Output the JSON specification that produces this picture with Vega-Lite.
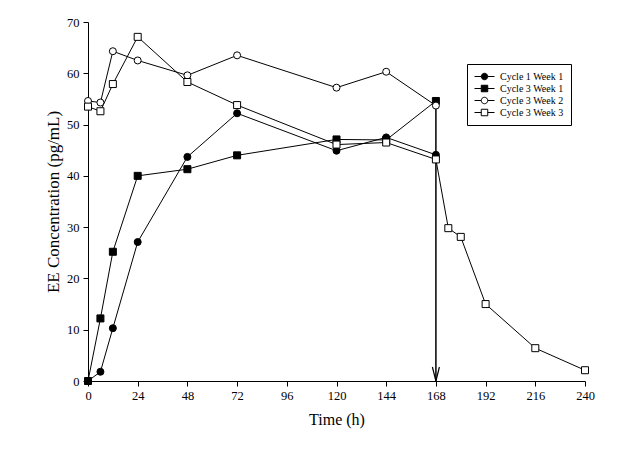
{
  "$schema": "https://vega.github.io/schema/vega-lite/v6.json",
  "width": 497,
  "height": 359,
  "autosize": {"type": "none"},
  "padding": {"left": 88, "top": 22, "right": 59, "bottom": 72},
  "background": "white",
  "config": {
    "view": {"stroke": null},
    "font": "Liberation Serif",
    "axis": {
      "domainColor": "black",
      "domainWidth": 1,
      "tickColor": "black",
      "tickWidth": 1,
      "tickSize": 5,
      "labelColor": "black",
      "labelFont": "Liberation Serif",
      "labelFontSize": 12.5,
      "titleColor": "black",
      "titleFont": "Liberation Serif",
      "titleFontSize": 16,
      "titleFontWeight": "normal",
      "grid": false
    }
  },
  "datasets": {
    "conc": [
      {"series": "Cycle 1 Week 1", "t": 0, "c": 0},
      {"series": "Cycle 1 Week 1", "t": 6, "c": 1.8},
      {"series": "Cycle 1 Week 1", "t": 12, "c": 10.3},
      {"series": "Cycle 1 Week 1", "t": 24, "c": 27.1},
      {"series": "Cycle 1 Week 1", "t": 48, "c": 43.7},
      {"series": "Cycle 1 Week 1", "t": 72, "c": 52.2},
      {"series": "Cycle 1 Week 1", "t": 120, "c": 44.9},
      {"series": "Cycle 1 Week 1", "t": 144, "c": 47.5},
      {"series": "Cycle 1 Week 1", "t": 168, "c": 44.1},
      {"series": "Cycle 3 Week 1", "t": 0, "c": 0},
      {"series": "Cycle 3 Week 1", "t": 6, "c": 12.2},
      {"series": "Cycle 3 Week 1", "t": 12, "c": 25.2},
      {"series": "Cycle 3 Week 1", "t": 24, "c": 40.0},
      {"series": "Cycle 3 Week 1", "t": 48, "c": 41.3},
      {"series": "Cycle 3 Week 1", "t": 72, "c": 44.0},
      {"series": "Cycle 3 Week 1", "t": 120, "c": 47.1},
      {"series": "Cycle 3 Week 1", "t": 144, "c": 47.0},
      {"series": "Cycle 3 Week 1", "t": 168, "c": 54.6},
      {"series": "Cycle 3 Week 2", "t": 0, "c": 54.6},
      {"series": "Cycle 3 Week 2", "t": 6, "c": 54.3},
      {"series": "Cycle 3 Week 2", "t": 12, "c": 64.3},
      {"series": "Cycle 3 Week 2", "t": 24, "c": 62.5},
      {"series": "Cycle 3 Week 2", "t": 48, "c": 59.6},
      {"series": "Cycle 3 Week 2", "t": 72, "c": 63.5},
      {"series": "Cycle 3 Week 2", "t": 120, "c": 57.2},
      {"series": "Cycle 3 Week 2", "t": 144, "c": 60.3},
      {"series": "Cycle 3 Week 2", "t": 168, "c": 53.7},
      {"series": "Cycle 3 Week 3", "t": 0, "c": 53.5},
      {"series": "Cycle 3 Week 3", "t": 6, "c": 52.6},
      {"series": "Cycle 3 Week 3", "t": 12, "c": 57.9},
      {"series": "Cycle 3 Week 3", "t": 24, "c": 67.1},
      {"series": "Cycle 3 Week 3", "t": 48, "c": 58.3},
      {"series": "Cycle 3 Week 3", "t": 72, "c": 53.8},
      {"series": "Cycle 3 Week 3", "t": 120, "c": 46.1},
      {"series": "Cycle 3 Week 3", "t": 144, "c": 46.5},
      {"series": "Cycle 3 Week 3", "t": 168, "c": 43.2},
      {"series": "Cycle 3 Week 3", "t": 174, "c": 29.8},
      {"series": "Cycle 3 Week 3", "t": 180, "c": 28.1},
      {"series": "Cycle 3 Week 3", "t": 192, "c": 15.0},
      {"series": "Cycle 3 Week 3", "t": 216, "c": 6.4},
      {"series": "Cycle 3 Week 3", "t": 240, "c": 2.1}
    ],
    "arrow": [{"t": 168, "top": 54.6, "bottom": 0}]
  },
  "resolve": {"scale": {"shape": "independent", "fill": "independent", "stroke": "independent"}, "legend": {"shape": "independent", "fill": "independent", "stroke": "independent"}},
  "layer": [
    {
      "data": {"name": "conc"},
      "mark": {"type": "line", "color": "black", "strokeWidth": 1},
      "encoding": {
        "x": {
          "field": "t", "type": "quantitative",
          "scale": {"domain": [0, 240], "nice": false},
          "axis": {
            "title": "Time (h)",
            "values": [0,6,12,18,24,30,36,42,48,54,60,66,72,78,84,90,96,102,108,114,120,126,132,138,144,150,156,162,168,174,180,186,192,198,204,210,216,222,228,234,240],
            "labelExpr": "datum.value % 24 === 0 ? datum.label : ''",
            "labelPadding": 3,
            "titlePadding": 10,
            "labelFlush": false
          }
        },
        "y": {
          "field": "c", "type": "quantitative",
          "scale": {"domain": [0, 70], "nice": false},
          "axis": {
            "title": "EE Concentration (pg/mL)",
            "titleFontSize": 17,
            "values": [0,5,10,15,20,25,30,35,40,45,50,55,60,65,70],
            "labelExpr": "datum.value % 10 === 0 ? datum.label : ''",
            "labelPadding": 4,
            "titlePadding": 4,
            "labelFlush": false
          }
        },
        "detail": {"field": "series"}
      }
    },
    {
      "data": {"name": "arrow"},
      "mark": {"type": "rule", "color": "black", "strokeWidth": 1.5},
      "encoding": {
        "x": {"field": "t", "type": "quantitative"},
        "y": {"field": "top", "type": "quantitative"},
        "y2": {"field": "bottom"}
      }
    },
    {
      "data": {"name": "arrow"},
      "mark": {"type": "point", "shape": "M-0.5,-1L0,1L0.5,-1", "filled": false, "stroke": "black", "strokeWidth": 1.2, "size": 196, "yOffset": -7, "opacity": 1},
      "encoding": {
        "x": {"field": "t", "type": "quantitative"},
        "y": {"field": "bottom", "type": "quantitative"}
      }
    },
    {
      "data": {"name": "conc"},
      "mark": {"type": "point", "filled": true, "stroke": "black", "strokeWidth": 1, "opacity": 1, "size": 49},
      "encoding": {
        "x": {"field": "t", "type": "quantitative"},
        "y": {"field": "c", "type": "quantitative"},
        "shape": {
          "field": "series", "type": "nominal",
          "scale": {"domain": ["Cycle 1 Week 1", "Cycle 3 Week 1", "Cycle 3 Week 2", "Cycle 3 Week 3"], "range": ["circle", "square", "circle", "square"]},
          "legend": null
        },
        "fill": {
          "field": "series", "type": "nominal",
          "scale": {"domain": ["Cycle 1 Week 1", "Cycle 3 Week 1", "Cycle 3 Week 2", "Cycle 3 Week 3"], "range": ["black", "black", "white", "white"]},
          "legend": null
        }
      }
    },
    {
      "data": {"name": "conc"},
      "transform": [{"filter": "datum.t < 0"}],
      "mark": {"type": "point", "filled": true, "opacity": 1, "size": 100},
      "encoding": {
        "x": {"field": "t", "type": "quantitative"},
        "y": {"field": "c", "type": "quantitative"},
        "shape": {
          "field": "series", "type": "nominal",
          "scale": {"domain": ["Cycle 1 Week 1", "Cycle 3 Week 1", "Cycle 3 Week 2", "Cycle 3 Week 3"], "range": [
            "M-2,0L-0.65,0M0.65,0L2,0M-0.65,0A0.65,0.65 0 1,0 0.65,0A0.65,0.65 0 1,0 -0.65,0Z",
            "M-2,0L-0.65,0M0.65,0L2,0M-0.65,-0.65L0.65,-0.65L0.65,0.65L-0.65,0.65Z",
            "M-2,0L-0.65,0M0.65,0L2,0M-0.65,0A0.65,0.65 0 1,0 0.65,0A0.65,0.65 0 1,0 -0.65,0Z",
            "M-2,0L-0.65,0M0.65,0L2,0M-0.65,-0.65L0.65,-0.65L0.65,0.65L-0.65,0.65Z"
          ]},
          "legend": {
            "title": null, "orient": "none", "legendX": 379, "legendY": 42,
            "strokeColor": "black", "padding": 7, "fillColor": "white",
            "labelFont": "Liberation Serif", "labelFontSize": 10, "labelColor": "black",
            "symbolSize": 100, "symbolStrokeWidth": 1,
            "symbolOffset": 5, "labelOffset": 10, "rowPadding": 1
          }
        },
        "fill": {
          "field": "series", "type": "nominal",
          "scale": {"domain": ["Cycle 1 Week 1", "Cycle 3 Week 1", "Cycle 3 Week 2", "Cycle 3 Week 3"], "range": ["black", "black", "white", "white"]},
          "legend": {
            "title": null, "orient": "none", "legendX": 379, "legendY": 42,
            "strokeColor": "black", "padding": 7, "fillColor": "white",
            "labelFont": "Liberation Serif", "labelFontSize": 10, "labelColor": "black",
            "symbolSize": 100, "symbolStrokeWidth": 1,
            "symbolOffset": 5, "labelOffset": 10, "rowPadding": 1
          }
        },
        "stroke": {
          "field": "series", "type": "nominal",
          "scale": {"domain": ["Cycle 1 Week 1", "Cycle 3 Week 1", "Cycle 3 Week 2", "Cycle 3 Week 3"], "range": ["black", "black", "black", "black"]},
          "legend": {
            "title": null, "orient": "none", "legendX": 379, "legendY": 42,
            "strokeColor": "black", "padding": 7, "fillColor": "white",
            "labelFont": "Liberation Serif", "labelFontSize": 10, "labelColor": "black",
            "symbolSize": 100, "symbolStrokeWidth": 1,
            "symbolOffset": 5, "labelOffset": 10, "rowPadding": 1
          }
        }
      }
    }
  ]
}
